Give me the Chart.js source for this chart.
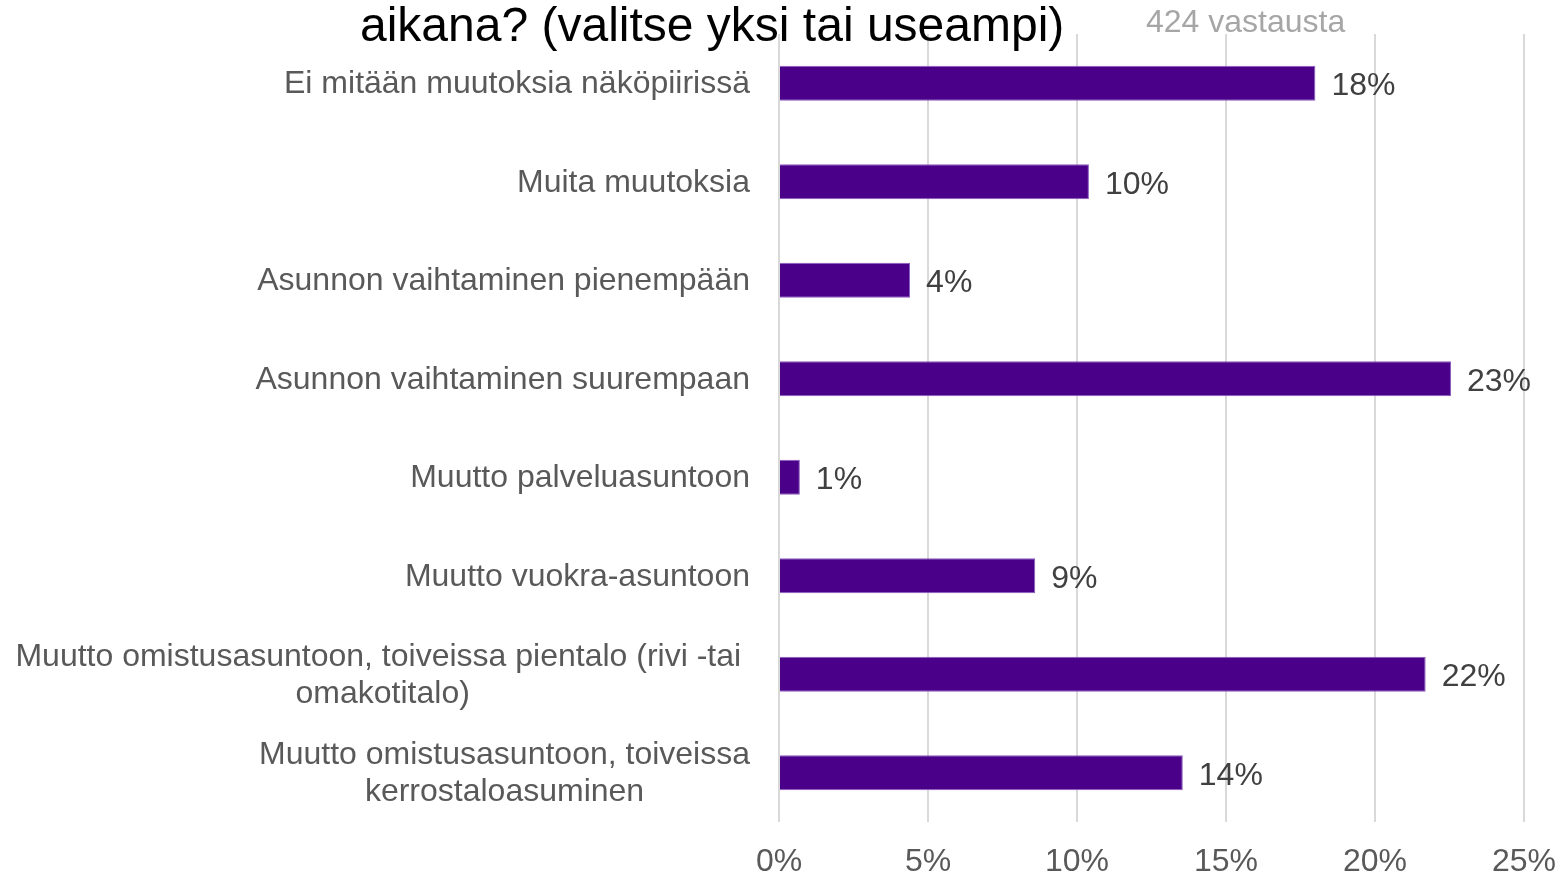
<!DOCTYPE html>
<html>
<head>
<meta charset="utf-8">
<script src="https://cdn.jsdelivr.net/npm/chart.js@4/dist/chart.umd.min.js"></script>
<style>
  body { margin: 0; background: #fff; overflow: hidden; }
  canvas { display: block; }
</style>
</head>
<body>
<canvas id="chart" width="1562" height="873"></canvas>
<script>
const categories = [
    'Ei mitään muutoksia näköpiirissä',
    'Muita muutoksia',
    'Asunnon vaihtaminen pienempään',
    'Asunnon vaihtaminen suurempaan',
    'Muutto palveluasuntoon',
    'Muutto vuokra-asuntoon',
    ['Muutto omistusasuntoon, toiveissa pientalo (rivi -tai ', 'omakotitalo)'],
    ['Muutto omistusasuntoon, toiveissa', 'kerrostaloasuminen']
];
const shares = [18.0, 10.4, 4.4, 22.55, 0.7, 8.6, 21.7, 13.55];
const xTicks = [0, 5, 10, 15, 20, 25];

const titleText = 'aikana? (valitse yksi tai useampi)';
const answersText = '424 vastausta';

const font = '"Liberation Sans", Arial, sans-serif';

// texts, category labels and value labels
const textPlugin = {
    id: 'texts',
    afterDraw(chart) {
        const ctx = chart.ctx;
        const y = chart.scales.y;
        const area = chart.chartArea;
        ctx.save();

        ctx.textAlign = 'left';
        ctx.textBaseline = 'alphabetic';
        ctx.fillStyle = '#000';
        ctx.font = '48px ' + font;
        ctx.fillText(titleText, 360, 41);
        ctx.fillStyle = '#a6a6a6';
        ctx.font = '32px ' + font;
        ctx.fillText(answersText, 1146, 32);

        ctx.font = '32px ' + font;
        ctx.textBaseline = 'middle';
        categories.forEach((lab, i) => {
            const cy = y.getPixelForValue(i) + 1;
            ctx.fillStyle = '#595959';
            if (Array.isArray(lab)) {
                const w = Math.max(...lab.map(l => ctx.measureText(l).width));
                const cx = area.left - 29 - w / 2;
                ctx.textAlign = 'center';
                lab.forEach((l, j) => {
                    ctx.fillText(l, cx, cy + (j - (lab.length - 1) / 2) * 37);
                });
            } else {
                ctx.textAlign = 'right';
                ctx.fillText(lab, area.left - 29, cy);
            }
        });

        const meta = chart.getDatasetMeta(0);
        ctx.fillStyle = '#404040';
        ctx.textAlign = 'left';
        meta.data.forEach((bar, i) => {
            ctx.fillText(Math.round(shares[i]) + '%', bar.x + 16, bar.y + 3);
        });
        ctx.restore();
    }
};

new Chart(document.getElementById('chart'), {
    type: 'bar',
    data: {
        labels: categories,
        datasets: [{
            data: shares,
            backgroundColor: '#4b0089',
            borderColor: '#8a5cc0',
            borderWidth: 1,
            barPercentage: 0.355,
            categoryPercentage: 1
        }]
    },
    options: {
        indexAxis: 'y',
        responsive: false,
        animation: false,
        layout: { padding: { top: 34, right: 38, left: 0, bottom: 0 } },
        plugins: {
            legend: { display: false },
            tooltip: { enabled: false }
        },
        scales: {
            x: {
                min: 0,
                max: 25,
                afterBuildTicks: (scale) => { scale.ticks = xTicks.map(v => ({ value: v })); },
                grid: { color: '#d9d9d9', lineWidth: 2, drawTicks: false },
                border: { display: false },
                ticks: {
                    padding: 21,
                    color: '#595959',
                    font: { family: font, size: 32 },
                    callback: (v) => v + '%'
                },
                afterFit: (scale) => {
                    scale.height = 51;
                    scale.paddingLeft = 0;
                    scale.paddingRight = 0;
                }
            },
            y: {
                grid: { display: false },
                border: { display: false },
                ticks: { display: false },
                afterFit: (scale) => { scale.width = 779; }
            }
        }
    },
    plugins: [textPlugin]
});
</script>
</body>
</html>
